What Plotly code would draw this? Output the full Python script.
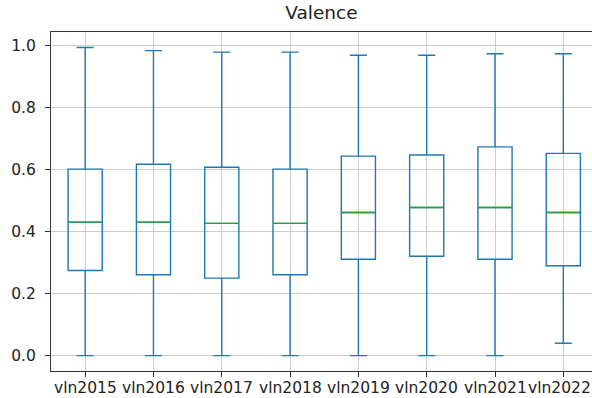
import plotly.graph_objects as go

categories = ["vln2015", "vln2016", "vln2017", "vln2018", "vln2019", "vln2020", "vln2021", "vln2022"]
lower_whisker = [0.0, 0.0, 0.0, 0.0, 0.0, 0.0, 0.0, 0.040]
q1 = [0.275, 0.261, 0.250, 0.261, 0.311, 0.321, 0.311, 0.290]
median = [0.431, 0.431, 0.427, 0.427, 0.462, 0.478, 0.478, 0.462]
q3 = [0.602, 0.618, 0.608, 0.602, 0.644, 0.648, 0.674, 0.653]
upper_whisker = [0.995, 0.985, 0.980, 0.980, 0.970, 0.970, 0.975, 0.975]
y_ticks = [0.0, 0.2, 0.4, 0.6, 0.8, 1.0]

BLUE = "#1f77b4"
GREEN = "#2ca02c"
BOX_W = 0.5

positions = list(range(1, len(categories) + 1))

fig = go.Figure()
fig.add_trace(go.Box(
    x=positions,
    q1=q1, median=median, q3=q3,
    lowerfence=lower_whisker, upperfence=upper_whisker,
    width=BOX_W,
    whiskerwidth=0.5,
    fillcolor="rgba(0,0,0,0)",
    line=dict(color=BLUE, width=1.4),
    boxpoints=False,
    showlegend=False,
    hoverinfo="skip",
))

mx, my = [], []
for p, m in zip(positions, median):
    mx += [p - BOX_W / 2, p + BOX_W / 2, None]
    my += [m, m, None]
fig.add_trace(go.Scatter(x=mx, y=my, mode="lines",
                         line=dict(color=GREEN, width=1.4),
                         showlegend=False, hoverinfo="skip"))

font = dict(family="DejaVu Sans", size=15.5, color="#222222")

# x tick labels as annotations so the last label near the edge is still drawn
for i, (p, lab) in enumerate(zip(positions, categories)):
    last = i == len(categories) - 1
    fig.add_annotation(x=p, xref="x", y=0, yref="paper", text=lab,
                       showarrow=False, xanchor="center", yanchor="top",
                       yshift=-6, xshift=-4 if last else 0, font=font)

fig.update_layout(
    width=592, height=398,
    margin=dict(l=51, r=0, t=32, b=27),
    plot_bgcolor="white", paper_bgcolor="white",
    title=dict(text="Valence", x=0.543, xanchor="center", y=0.985, yanchor="top",
               font=dict(family="DejaVu Sans", size=18.5, color="#222222")),
    font=font,
)
fig.update_xaxes(
    range=[0.5, 8.42], tickvals=positions, showticklabels=False,
    showgrid=True, gridcolor="#cccccc", gridwidth=1,
    showline=True, linecolor="#333333", linewidth=1, mirror=True,
    ticks="outside", ticklen=5, tickcolor="#333333",
    zeroline=False,
)
fig.update_yaxes(
    range=[-0.0498, 1.045], tickvals=y_ticks, ticktext=[f"{v:.1f}" for v in y_ticks],
    showgrid=True, gridcolor="#cccccc", gridwidth=1,
    showline=True, linecolor="#333333", linewidth=1, mirror=False,
    ticks="outside", ticklen=5, tickcolor="#333333", tickfont=font,
    ticklabelstandoff=6,
    zeroline=False,
)
fig.write_html("out.html")
